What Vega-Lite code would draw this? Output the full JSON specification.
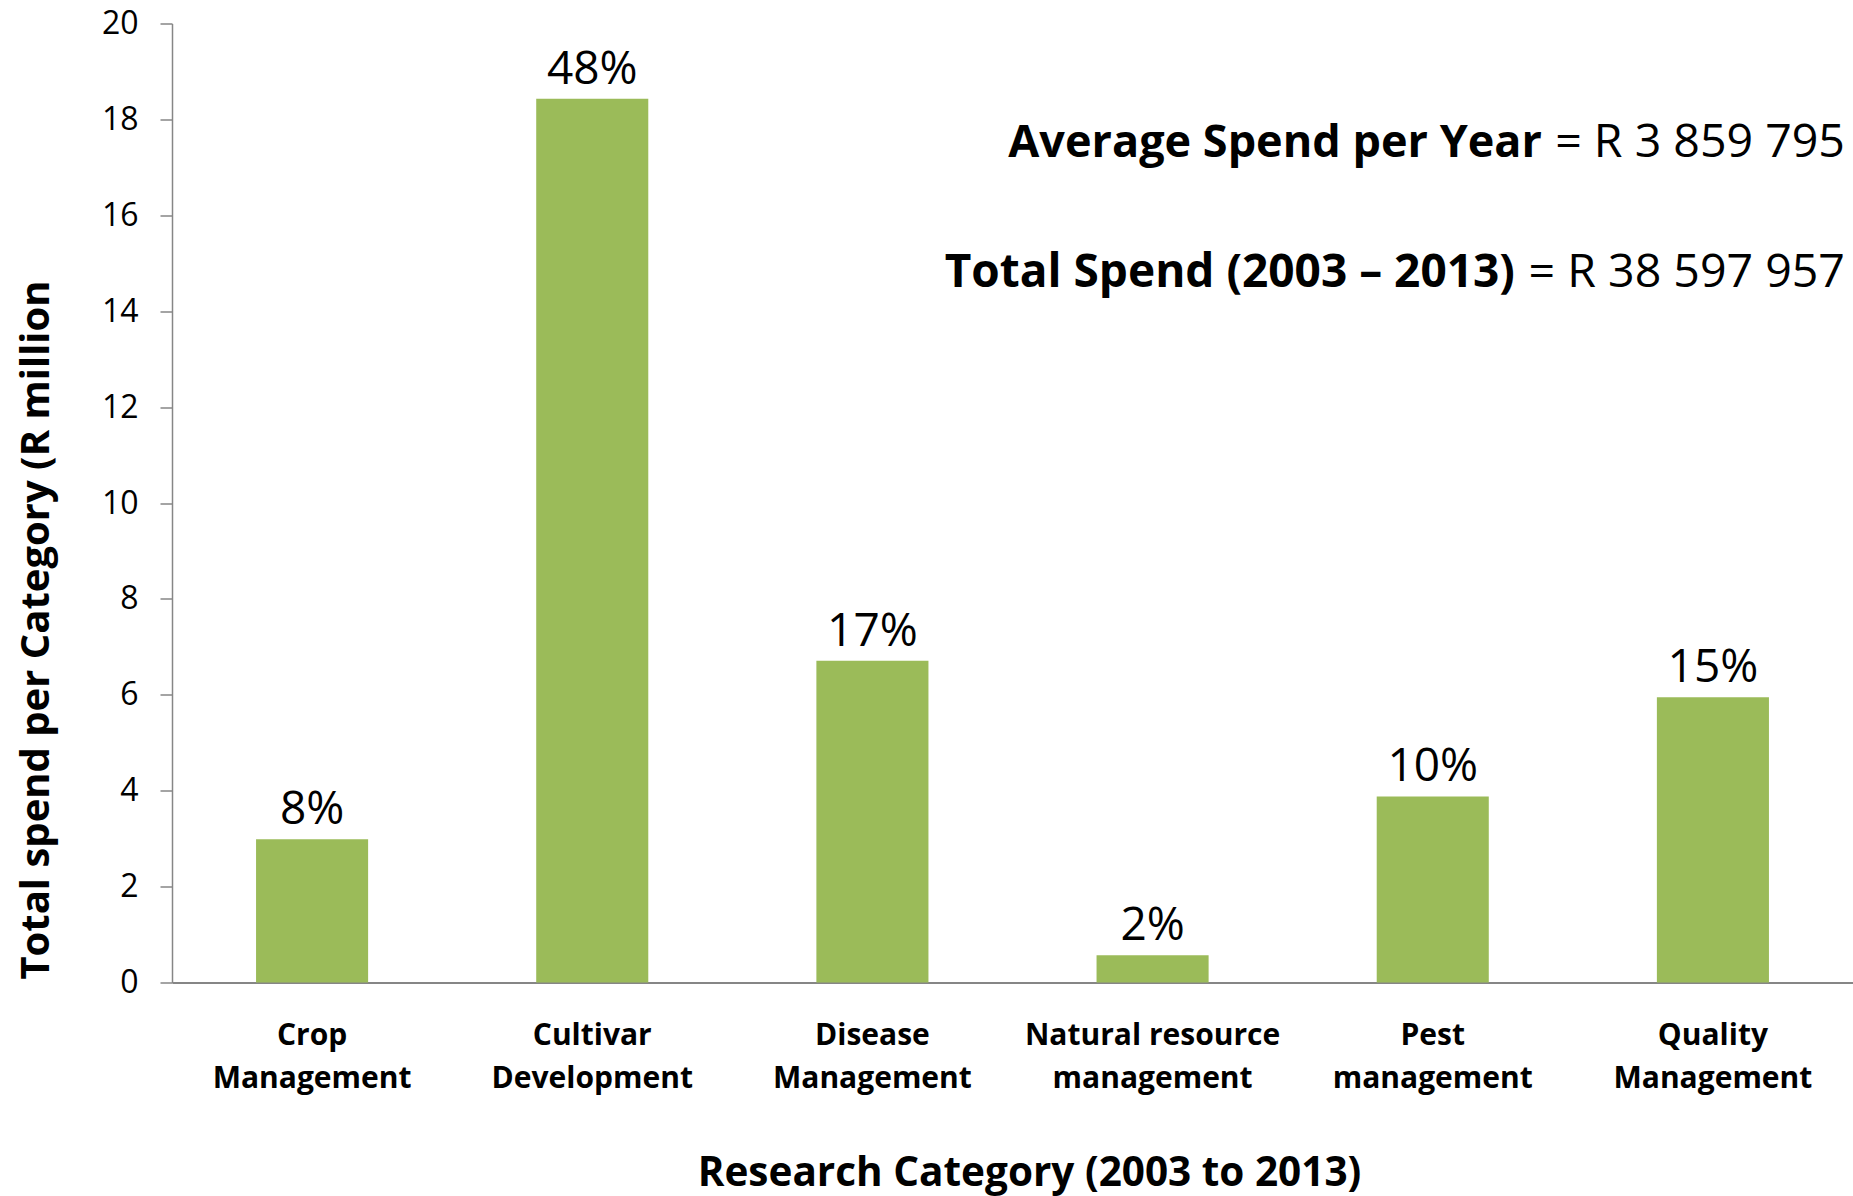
{
  "$schema": "https://vega.github.io/schema/vega-lite/v6.json",
  "autosize": {"type": "none"},
  "width": 1681,
  "height": 959,
  "padding": {"left": 172, "top": 23.5, "right": 0, "bottom": 213.5},
  "background": "white",
  "config": {
    "view": {"stroke": null},
    "font": "Open Sans",
    "text": {"font": "Open Sans", "color": "black"}
  },
  "layer": [
    {
      "data": {
        "values": [
          {"category": "Crop Management", "spend": 2.99, "pct": "8%"},
          {"category": "Cultivar Development", "spend": 18.43, "pct": "48%"},
          {"category": "Disease Management", "spend": 6.71, "pct": "17%"},
          {"category": "Natural resource management", "spend": 0.57, "pct": "2%"},
          {"category": "Pest management", "spend": 3.88, "pct": "10%"},
          {"category": "Quality Management", "spend": 5.95, "pct": "15%"}
        ]
      },
      "encoding": {
        "x": {
          "field": "category",
          "type": "nominal",
          "sort": null,
          "scale": {"paddingInner": 0.6, "paddingOuter": 0.3},
          "axis": {
            "title": "Research Category (2003 to 2013)",
            "titleFont": "Open Sans",
            "titleFontSize": 40.5,
            "titleFontWeight": "bold",
            "titleColor": "black",
            "titleX": 857,
            "titleY": 202.5,
            "titleAlign": "center",
            "titleBaseline": "alphabetic",
            "labelAngle": 0,
            "labelFont": "Open Sans",
            "labelFontSize": 30,
            "labelFontWeight": "bold",
            "labelColor": "black",
            "labelBaseline": "alphabetic",
            "labelLineHeight": 43,
            "labelPadding": 61.5,
            "labelLimit": 400,
            "labelExpr": "[slice(datum.label, 0, lastindexof(datum.label, ' ')), slice(datum.label, lastindexof(datum.label, ' ') + 1)]",
            "ticks": false,
            "tickSize": 0,
            "domainColor": "#868686",
            "domainWidth": 2,
            "grid": false
          }
        },
        "y": {
          "field": "spend",
          "type": "quantitative",
          "scale": {"domain": [0, 20], "nice": false},
          "axis": {
            "title": "Total spend per Category (R million",
            "titleFont": "Open Sans",
            "titleFontSize": 40,
            "titleFontWeight": "bold",
            "titleColor": "black",
            "titleAngle": 270,
            "titleX": -124,
            "titleY": 606,
            "titleAlign": "center",
            "titleBaseline": "alphabetic",
            "values": [0, 2, 4, 6, 8, 10, 12, 14, 16, 18, 20],
            "labelFont": "Open Sans",
            "labelFontSize": 32,
            "labelColor": "black",
            "labelPadding": 22,
            "tickSize": 12,
            "tickColor": "#868686",
            "tickWidth": 1.5,
            "domainColor": "#868686",
            "domainWidth": 1.5,
            "grid": false
          }
        }
      },
      "layer": [
        {"mark": {"type": "bar", "color": "#9BBB59"}},
        {
          "mark": {"type": "text", "fontSize": 46, "baseline": "alphabetic", "dy": -15, "color": "black"},
          "encoding": {"text": {"field": "pct"}}
        }
      ]
    },
    {
      "data": {"values": [{"label": "Average Spend per Year", "amount": "= R 3 859 795"}]},
      "encoding": {
        "x": {"datum": "Quality Management", "type": "nominal"},
        "y": {"datum": 17.22, "type": "quantitative"}
      },
      "layer": [
        {
          "mark": {"type": "text", "fontSize": 45, "fontWeight": "bold", "align": "right", "baseline": "alphabetic", "dx": -171},
          "encoding": {"text": {"field": "label"}}
        },
        {
          "mark": {"type": "text", "fontSize": 46.5, "align": "right", "baseline": "alphabetic", "dx": 132},
          "encoding": {"text": {"field": "amount"}}
        }
      ]
    },
    {
      "data": {"values": [{"label": "Total Spend (2003 – 2013)", "amount": "= R 38 597 957"}]},
      "encoding": {
        "x": {"datum": "Quality Management", "type": "nominal"},
        "y": {"datum": 14.5, "type": "quantitative"}
      },
      "layer": [
        {
          "mark": {"type": "text", "fontSize": 46, "fontWeight": "bold", "align": "right", "baseline": "alphabetic", "dx": -198},
          "encoding": {"text": {"field": "label"}}
        },
        {
          "mark": {"type": "text", "fontSize": 46.5, "align": "right", "baseline": "alphabetic", "dx": 132},
          "encoding": {"text": {"field": "amount"}}
        }
      ]
    }
  ]
}
